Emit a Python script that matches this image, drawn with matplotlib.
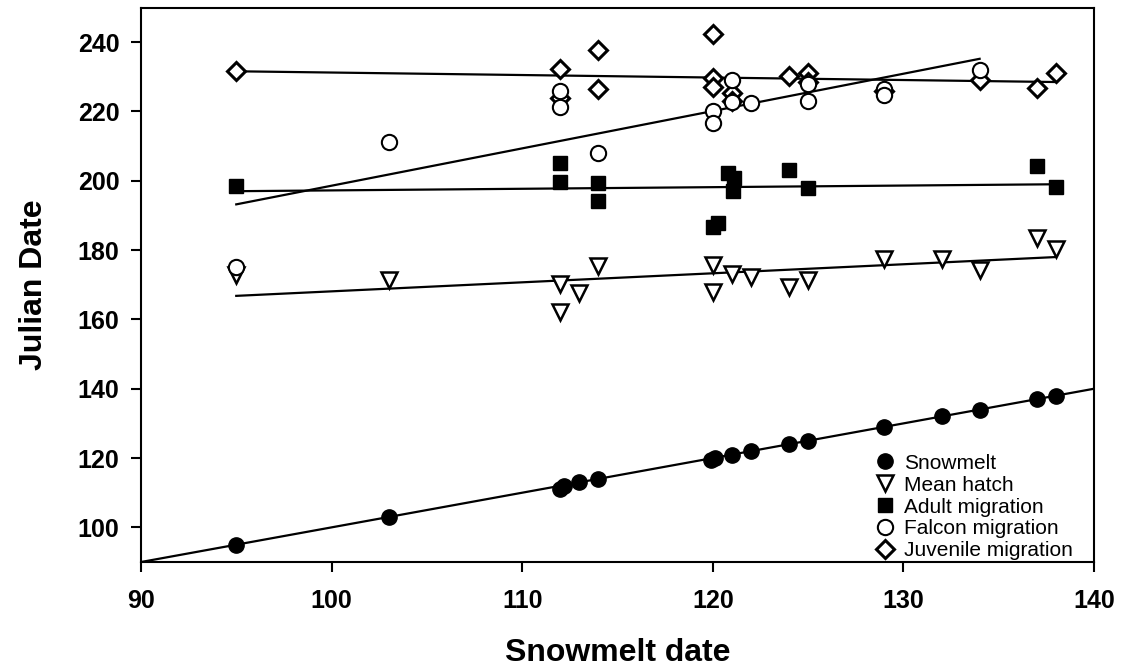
import matplotlib
matplotlib.use("Agg")
import matplotlib.pyplot as plt

plt.rcParams['font.family'] = ['Liberation Sans', 'DejaVu Sans']

# ---- data ----
snow_x = [95, 103, 112, 112.2, 113, 114, 119.9, 120.1, 121, 122, 124, 125, 129, 132, 134, 137, 138]
snow_y = [95, 103, 111.2, 112, 113, 114, 119.3, 120, 121, 122, 124, 125, 129, 132, 134, 137, 138]

hatch_x = [95, 103, 112, 112, 113, 114, 120, 120, 121, 122, 124, 125, 129, 132, 134, 137, 138]
hatch_y = [172.8, 171.3, 170.3, 162.1, 167.5, 175.4, 175.6, 167.9, 173.2, 172.1, 169.4, 171.3, 177.3, 177.3, 174.2, 183.4, 180.4]

adult_x = [95, 112, 112, 114, 114, 120, 120.3, 120.8, 121.1, 121.05, 124, 125, 137, 138]
adult_y = [198.6, 205.1, 199.7, 199.4, 194.2, 186.8, 187.8, 202.3, 200.7, 197.1, 203.1, 197.8, 204.4, 198.1]

falcon_x = [95, 103, 112, 112, 114, 120, 120, 121, 121, 122, 125, 125, 129, 129, 134]
falcon_y = [175.2, 211.1, 225.8, 221.3, 208.0, 220.0, 216.8, 229.2, 222.8, 222.4, 228.0, 222.9, 226.6, 224.8, 232.0]

juv_x = [95, 112, 112, 114, 114, 120, 120, 120, 121, 121, 124, 125, 125, 129, 134, 137, 138]
juv_y = [231.6, 232.3, 223.8, 237.6, 226.5, 242.4, 229.6, 227.0, 225.3, 223.0, 230.3, 231.2, 228.5, 225.8, 229.2, 226.8, 231.1]

# fitted lines (end points)
snow_fit_x, snow_fit_y = [90, 140], [90, 140]
hatch_fit_x, hatch_fit_y = [95, 138], [166.8, 178.0]
adult_fit_x, adult_fit_y = [95, 138], [197.0, 199.0]
falcon_fit_x, falcon_fit_y = [95, 134], [193.2, 235.2]
juv_fit_x, juv_fit_y = [95, 138], [231.6, 228.5]

x_ticks = [90, 100, 110, 120, 130, 140]
y_ticks = [100, 120, 140, 160, 180, 200, 220, 240]

fig = plt.figure(figsize=(11.24, 6.71), dpi=100)
ax = fig.add_axes([0.1254, 0.1624, 0.8479, 0.8264])

for fx, fy in [(snow_fit_x, snow_fit_y), (hatch_fit_x, hatch_fit_y), (adult_fit_x, adult_fit_y),
               (falcon_fit_x, falcon_fit_y), (juv_fit_x, juv_fit_y)]:
    ax.plot(fx, fy, color='black', lw=1.6, zorder=2)

ax.plot(snow_x, snow_y, 'o', ms=11, mfc='black', mec='black', ls='none', label='Snowmelt', zorder=3)
ax.plot(hatch_x, hatch_y, 'v', ms=11, mfc='white', mec='black', mew=1.8, ls='none', label='Mean hatch', zorder=3)
ax.plot(adult_x, adult_y, 's', ms=10, mfc='black', mec='black', ls='none', label='Adult migration', zorder=3)
ax.plot(falcon_x, falcon_y, 'o', ms=11, mfc='white', mec='black', mew=1.5, ls='none', label='Falcon migration', zorder=4)
ax.plot(juv_x, juv_y, 'D', ms=9, mfc='white', mec='black', mew=2.2, ls='none', label='Juvenile migration', zorder=3)

ax.set_xlim(90, 140)
ax.set_ylim(90, 250)
ax.set_xticks(x_ticks)
ax.set_yticks(y_ticks)
ax.tick_params(direction='out', length=7.5, width=1.5, labelsize=18)
ax.tick_params(axis='y', pad=8)
ax.tick_params(axis='x', pad=12)
for lab in ax.get_xticklabels() + ax.get_yticklabels():
    lab.set_fontweight('bold')
for sp in ax.spines.values():
    sp.set_linewidth(1.5)

ax.set_xlabel('Snowmelt date', fontsize=23, fontweight='bold', labelpad=18)
ax.set_ylabel('Julian Date', fontsize=23, fontweight='bold', labelpad=21)

leg = ax.legend(loc='lower right', bbox_to_anchor=(0.987, -0.012), frameon=False, fontsize=15,
                labelspacing=0.14, handlelength=1.0, handletextpad=0.45, borderaxespad=0.0,
                markerscale=1.0)

fig.savefig('out.png', dpi=100)
